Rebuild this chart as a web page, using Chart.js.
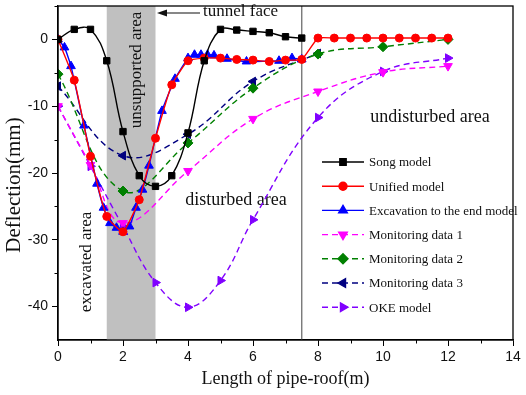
<!DOCTYPE html>
<html>
<head>
<meta charset="utf-8">
<script src="https://cdn.jsdelivr.net/npm/chart.js@4.4.1/dist/chart.umd.min.js"></script>
<style>
  html, body { margin: 0; padding: 0; background: #fff; }
  #wrap { width: 526px; height: 395px; position: relative; }
</style>
</head>
<body>
<div id="wrap"><canvas id="chart"></canvas></div>
<script>
// data
const songX = [0, 0.5, 1, 1.5, 2, 2.5, 3, 3.5, 4, 4.5, 5, 5.5, 6, 6.5, 7, 7.5]
const songY = [0, 1.5, 1.5, -3.2, -13.8, -20.4, -22, -20.4, -14, -3.2, 1.5, 1.4, 1.2, 1.0, 0.4, 0.2]

const unifiedX = [0, 0.5, 1, 1.5, 2, 2.5, 3, 3.5, 4, 4.5, 5, 5.5, 6, 6.5, 7, 7.5, 8, 8.5, 9, 9.5, 10, 10.5, 11, 11.5, 12]
const unifiedY = [0, -6.1, -17.5, -26.5, -28.8, -24, -14.8, -6.8, -3.2, -2.8, -2.8, -3.0, -3.1, -3.3, -3.1, -3.0, 0.2, 0.2, 0.2, 0.2, 0.2, 0.2, 0.2, 0.2, 0.2]

const excavX = [0, 0.2, 0.4, 0.8, 1.2, 1.4, 1.6, 1.8, 2.0, 2.2, 2.4, 2.6, 2.8, 3.2, 3.6, 4.0, 4.2, 4.4, 4.6, 4.8, 5.2, 5.8, 6.8, 7.2, 7.5]
const excavY = [0, -1.2, -4.0, -12.9, -21.6, -25.2, -27.5, -28.2, -28.8, -28.0, -25.2, -22.5, -18.9, -10.7, -5.9, -2.8, -2.3, -2.3, -2.3, -2.4, -2.9, -3.3, -3.2, -2.8, -3.0]

const mon1X = [0, 1, 2, 4, 6, 8, 10, 12]
const mon1Y = [-10, -18.8, -27.5, -19.7, -11.9, -7.8, -4.9, -4.0]

const mon2X = [0, 2, 4, 6, 8, 10, 12]
const mon2Y = [-5.2, -22.7, -15.5, -7.3, -2.2, -1.1, 0]

const mon3X = [0, 2, 4, 6, 8]
const mon3Y = [-7, -17.4, -14.2, -6.3, -2.1]

const okeX = [0, 1, 2, 3, 4, 5, 6, 8, 10, 12]
const okeY = [-10, -19, -28, -36.4, -40.1, -36.1, -27, -11.7, -4.8, -2.8]

const xTicks = [0, 2, 4, 6, 8, 10, 12, 14]
const yTicks = [-40, -30, -20, -10, 0]
const xMinor = [1, 3, 5, 7, 9, 11, 13]
const yMinor = [-45, -35, -25, -15, -5, 5]

const bandFrom = 1.5
const bandTo = 3
const faceX = 7.5

function pts (xs, ys) {
    return xs.map((x, i) => ({ x: x, y: ys[i] }))
}

function series (label, xs, ys, color, style, rot, radius, dashed, tension) {
    return {
        label: label,
        data: pts(xs, ys),
        borderColor: color,
        backgroundColor: color,
        pointBackgroundColor: color,
        pointBorderColor: color,
        pointStyle: style,
        pointRotation: rot,
        pointRadius: radius,
        pointBorderWidth: 1,
        borderWidth: 1.4,
        borderDash: dashed ? [6, 4] : [],
        tension: tension,
        fill: false,
    }
}

const serif = "'Liberation Serif', 'Times New Roman', serif"
const sans = "'Liberation Sans', Arial, sans-serif"

const decor = {
    id: 'decor',
    beforeDatasetsDraw (chart) {
        const ctx = chart.ctx
        const xs = chart.scales.x
        const a = chart.chartArea
        ctx.save()
        // grey band (unsupported area)
        const b1 = xs.getPixelForValue(bandFrom)
        const b2 = xs.getPixelForValue(bandTo)
        ctx.fillStyle = '#c0c0c0'
        ctx.fillRect(b1, a.top, b2 - b1, a.bottom - a.top)
        // tunnel face line
        const fx = xs.getPixelForValue(faceX)
        ctx.strokeStyle = '#6e6e6e'
        ctx.lineWidth = 1.3
        ctx.beginPath()
        ctx.moveTo(fx, a.top)
        ctx.lineTo(fx, a.bottom)
        ctx.stroke()

        // texts
        ctx.fillStyle = '#111'
        ctx.textBaseline = 'middle'
        ctx.textAlign = 'center'
        ctx.save()
        ctx.translate((b1 + b2) / 2 + 5, 70)
        ctx.rotate(-Math.PI / 2)
        ctx.font = '17px ' + serif
        ctx.fillText('unsupported area', 0, 0)
        ctx.restore()

        ctx.save()
        ctx.translate(87, 262)
        ctx.rotate(-Math.PI / 2)
        ctx.font = '17px ' + serif
        ctx.fillText('excavated area', 0, 0)
        ctx.restore()

        // y axis title (sits a bit below the middle in the original)
        ctx.save()
        ctx.translate(14, 185)
        ctx.rotate(-Math.PI / 2)
        ctx.font = '21px ' + serif
        ctx.fillText('Deflection(mm)', 0, 0)
        ctx.restore()

        ctx.font = '18px ' + serif
        ctx.fillText('disturbed area', 236, 200)
        ctx.fillText('undisturbed area', 430, 117)

        ctx.textAlign = 'left'
        ctx.font = '17px ' + serif
        ctx.fillText('tunnel face', 203, 12)
        // arrow
        ctx.strokeStyle = '#111'
        ctx.lineWidth = 1.2
        ctx.beginPath()
        ctx.moveTo(200, 13)
        ctx.lineTo(163, 13)
        ctx.stroke()
        ctx.beginPath()
        ctx.moveTo(157, 13)
        ctx.lineTo(167, 9.5)
        ctx.lineTo(167, 16.5)
        ctx.closePath()
        ctx.fill()
        ctx.restore()
    },
    afterDraw (chart) {
        const ctx = chart.ctx
        const xs = chart.scales.x
        const ys = chart.scales.y
        const a = chart.chartArea
        ctx.save()
        ctx.strokeStyle = '#000'
        ctx.lineWidth = 1.3
        ctx.strokeRect(a.left, a.top, a.right - a.left, a.bottom - a.top)
        // minor ticks
        ctx.lineWidth = 1
        ctx.beginPath()
        xMinor.forEach(v => {
            const px = Math.round(xs.getPixelForValue(v)) + 0.5
            ctx.moveTo(px, a.bottom)
            ctx.lineTo(px, a.bottom + 3.5)
        })
        yMinor.forEach(v => {
            const py = Math.round(ys.getPixelForValue(v)) + 0.5
            if (py < a.top || py > a.bottom) return
            ctx.moveTo(a.left, py)
            ctx.lineTo(a.left - 3.5, py)
        })
        ctx.stroke()

        // legend
        const lx0 = 322
        const lx1 = 364
        const ly0 = 162
        const step = 24.2
        ctx.font = '13px ' + serif
        ctx.textAlign = 'left'
        ctx.textBaseline = 'middle'
        chart.data.datasets.forEach((ds, i) => {
            const y = ly0 + i * step
            ctx.strokeStyle = ds.borderColor
            ctx.lineWidth = ds.borderWidth
            ctx.setLineDash(ds.borderDash)
            ctx.beginPath()
            ctx.moveTo(lx0, y)
            ctx.lineTo(lx1, y)
            ctx.stroke()
            ctx.setLineDash([])
            ctx.fillStyle = ds.backgroundColor
            Chart.helpers.drawPoint(ctx, {
                pointStyle: ds.pointStyle,
                rotation: ds.pointRotation,
                radius: ds.pointRadius,
                borderWidth: 1,
            }, (lx0 + lx1) / 2, y)
            ctx.fillStyle = '#111'
            ctx.fillText(ds.label, 369, y + 1)
        })
        ctx.restore()
    }
}

const config = {
    type: 'line',
    data: {
        datasets: [
            series('Song model', songX, songY, '#000000', 'rect', 0, 4.5, false, 0.4),
            series('Unified model', unifiedX, unifiedY, '#ff0000', 'circle', 0, 4, false, 0.15),
            series('Excavation to the end model', excavX, excavY, '#0000ff', 'triangle', 0, 5, false, 0.15),
            series('Monitoring data 1', mon1X, mon1Y, '#ff00ff', 'triangle', 180, 5, true, 0.4),
            series('Monitoring data 2', mon2X, mon2Y, '#008000', 'rectRot', 0, 5, true, 0.4),
            series('Monitoring data 3', mon3X, mon3Y, '#000080', 'triangle', -90, 5, true, 0.4),
            series('OKE model', okeX, okeY, '#8000ff', 'triangle', 90, 5, true, 0.4),
        ]
    },
    options: {
        responsive: false,
        animation: false,
        layout: { padding: { top: -1, right: 13, left: 0, bottom: 0 } },
        plugins: {
            legend: { display: false },
            tooltip: { enabled: false },
        },
        scales: {
            x: {
                type: 'linear',
                min: 0,
                max: 14,
                afterBuildTicks (scale) { scale.ticks = xTicks.map(v => ({ value: v })) },
                afterFit (scale) { scale.height = 55; scale.paddingLeft = 0; scale.paddingRight = 0 },
                grid: { drawOnChartArea: false, drawTicks: true, tickLength: 6, color: '#000', tickWidth: 1 },
                border: { color: '#000', width: 1.3 },
                ticks: { color: '#111', font: { family: sans, size: 14 }, padding: 3, maxRotation: 0 },
                title: { display: true, text: 'Length of pipe-roof(m)', color: '#111', font: { family: serif, size: 18 }, padding: { top: 0, bottom: 5 } },
            },
            y: {
                type: 'linear',
                min: -45,
                max: 5,
                afterBuildTicks (scale) { scale.ticks = yTicks.map(v => ({ value: v })) },
                afterFit (scale) { scale.width = 58; scale.paddingTop = 0; scale.paddingBottom = 0 },
                grid: { drawOnChartArea: false, drawTicks: true, tickLength: 6, color: '#000', tickWidth: 1 },
                border: { color: '#000', width: 1.3 },
                ticks: { color: '#111', font: { family: sans, size: 14 }, padding: 4 },
                title: { display: false },
            }
        }
    },
    plugins: [decor]
}

const canvas = document.getElementById('chart')
canvas.width = 526
canvas.height = 395
new Chart(canvas, config)
</script>
</body>
</html>
